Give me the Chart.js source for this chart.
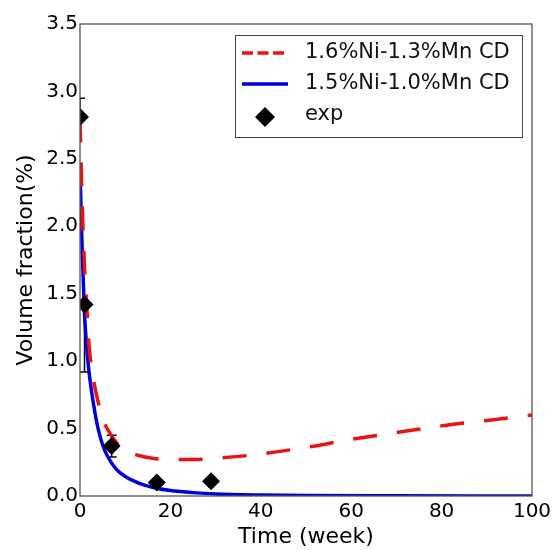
<!DOCTYPE html>
<html>
<head>
  <script src="https://cdn.jsdelivr.net/npm/chart.js"></script>
  <style>
    body { margin: 0; background: #fff; }
    #wrap { width: 556px; height: 550px; }
  </style>
</head>
<body>
  <div id="wrap"><canvas id="volChart" width="556" height="550"></canvas></div>
  <script>
    // model curve 1.6%Ni-1.3%Mn CD (red dashed)
    var redTime = [0, 0.5, 1, 1.5, 2, 3, 4, 5, 6, 8, 10, 13, 16, 20, 25, 30, 37, 50, 60, 70, 80, 90, 100];
    var redVal  = [2.80, 2.15, 1.70, 1.40, 1.12, 0.86, 0.70, 0.58, 0.50, 0.40, 0.34, 0.30, 0.28, 0.27, 0.27, 0.28, 0.30, 0.36, 0.42, 0.47, 0.52, 0.56, 0.60];

    // model curve 1.5%Ni-1.0%Mn CD (blue)
    var blueTime = [0, 0.5, 1, 1.5, 2, 3, 4, 5, 6, 8, 10, 13, 16, 20, 25, 30, 40, 50, 70, 100];
    var blueVal  = [2.42, 1.80, 1.35, 1.10, 0.92, 0.68, 0.50, 0.38, 0.30, 0.20, 0.145, 0.095, 0.065, 0.04, 0.025, 0.015, 0.007, 0.003, 0.001, 0];

    // experiment (error bars as seen: upper / lower)
    var expTime = [0, 1, 7, 17, 29];
    var expVal  = [2.81, 1.42, 0.37, 0.10, 0.11];
    var expErrUp  = [0.14, 0, 0.08, 0, 0];
    var expErrLow = [0, 0.50, 0.08, 0, 0];

    var labelRed = '1.6%Ni-1.3%Mn CD';
    var labelBlue = '1.5%Ni-1.0%Mn CD';
    var labelExp = 'exp';

    var FONT = "'DejaVu Sans', sans-serif";

    function toPoints(xs, ys) {
      return xs.map(function (x, i) { return { x: x, y: ys[i] }; });
    }

    // error bars (under the curves), frame and legend box
    var extras = {
      id: 'extras',
      beforeDatasetsDraw: function (chart) {
        var ctx = chart.ctx, a = chart.chartArea;
        var xs = chart.scales.x, ys = chart.scales.y;
        ctx.save();
        ctx.beginPath();
        ctx.rect(a.left, a.top, a.right - a.left, a.bottom - a.top);
        ctx.clip();
        ctx.strokeStyle = '#000';
        ctx.lineWidth = 1.5;
        for (var i = 0; i < expTime.length; i++) {
          if (!expErrUp[i] && !expErrLow[i]) continue;
          var px = xs.getPixelForValue(expTime[i]);
          var top = ys.getPixelForValue(expVal[i] + expErrUp[i]);
          var bot = ys.getPixelForValue(expVal[i] - expErrLow[i]);
          ctx.beginPath();
          ctx.moveTo(px, top); ctx.lineTo(px, bot);
          if (expErrUp[i]) { ctx.moveTo(px - 5, top); ctx.lineTo(px + 5, top); }
          if (expErrLow[i]) { ctx.moveTo(px - 5, bot); ctx.lineTo(px + 5, bot); }
          ctx.stroke();
        }
        ctx.restore();
      },
      afterDraw: function (chart) {
        var ctx = chart.ctx, a = chart.chartArea;
        ctx.save();
        ctx.strokeStyle = '#555';
        ctx.lineWidth = 1.3;
        ctx.strokeRect(a.left, a.top, a.right - a.left, a.bottom - a.top);

        // legend
        var bx = a.right - 297, by = a.top + 11, bw = 287, bh = 102;
        ctx.fillStyle = '#fff';
        ctx.fillRect(bx, by, bw, bh);
        ctx.strokeStyle = '#444';
        ctx.lineWidth = 1;
        ctx.strokeRect(bx + 0.5, by + 0.5, bw, bh);

        var rows = [by + 18, by + 49, by + 82];
        ctx.lineWidth = 3.5;
        ctx.strokeStyle = '#ee1111';
        ctx.setLineDash([11, 4.5]);
        ctx.beginPath(); ctx.moveTo(bx + 7, rows[0]); ctx.lineTo(bx + 53, rows[0]); ctx.stroke();
        ctx.setLineDash([]);
        ctx.strokeStyle = '#0000dd';
        ctx.beginPath(); ctx.moveTo(bx + 7, rows[1]); ctx.lineTo(bx + 53, rows[1]); ctx.stroke();

        ctx.fillStyle = '#000';
        var cx = bx + 30, cy = rows[2], r = 10;
        ctx.beginPath();
        ctx.moveTo(cx, cy - r); ctx.lineTo(cx + r, cy); ctx.lineTo(cx, cy + r); ctx.lineTo(cx - r, cy);
        ctx.closePath(); ctx.fill();

        ctx.font = '21px ' + FONT;
        ctx.textBaseline = 'middle';
        ctx.fillStyle = '#111';
        ctx.fillText(labelRed, bx + 70, rows[0]);
        ctx.fillText(labelBlue, bx + 70, rows[1]);
        ctx.fillText(labelExp, bx + 70, rows[2] - 2);
        ctx.restore();
      }
    };

    new Chart(document.getElementById('volChart'), {
      type: 'line',
      data: {
        datasets: [
          {
            label: labelExp,
            data: toPoints(expTime, expVal),
            showLine: false,
            pointStyle: 'rectRot',
            pointRadius: 9,
            pointBackgroundColor: '#000',
            pointBorderColor: '#000',
            pointBorderWidth: 0,
            clip: 0
          },
          {
            label: labelRed,
            data: toPoints(redTime, redVal),
            borderColor: '#ee1111',
            borderWidth: 3.5,
            borderDash: [24, 20],
            pointRadius: 0,
            cubicInterpolationMode: 'monotone',
            fill: false,
            clip: 0
          },
          {
            label: labelBlue,
            data: toPoints(blueTime, blueVal),
            borderColor: '#0000dd',
            borderWidth: 3.5,
            pointRadius: 0,
            cubicInterpolationMode: 'monotone',
            fill: false,
            clip: 0
          }
        ]
      },
      options: {
        responsive: false,
        animation: false,
        layout: { padding: { top: 24, right: 24, left: 0, bottom: 0 } },
        plugins: { legend: { display: false }, tooltip: { enabled: false } },
        scales: {
          x: {
            type: 'linear',
            min: 0, max: 100,
            grid: { display: false, drawTicks: false },
            border: { display: false },
            ticks: { stepSize: 20, padding: 4, color: '#000', font: { family: FONT, size: 20 } },
            title: { display: true, text: 'Time (week)', color: '#000', padding: { top: 0, bottom: 0 }, font: { family: FONT, size: 22, lineHeight: 1.2 } },
            afterFit: function (s) { s.height = 54; }
          },
          y: {
            min: 0, max: 3.5,
            grid: { display: false, drawTicks: false },
            border: { display: false },
            ticks: { stepSize: 0.5, padding: 2, color: '#000', font: { family: FONT, size: 20 },
              callback: function (v) { return v.toFixed(1); } },
            title: { display: true, text: 'Volume fraction(%)', color: '#000', padding: { top: 13, bottom: 0 }, font: { family: FONT, size: 22, lineHeight: 1.2 } },
            afterFit: function (s) { s.width = 80; }
          }
        }
      },
      plugins: [extras]
    });
  </script>
</body>
</html>
